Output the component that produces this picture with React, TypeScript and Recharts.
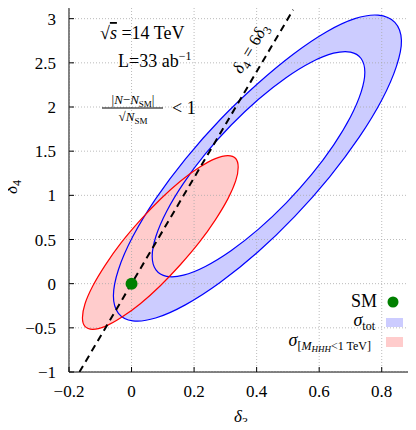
import React from "react";
import { ScatterChart, Scatter, XAxis, YAxis, ReferenceArea } from "recharts";

type Pt = [number, number];

const xDomain: [number, number] = [-0.2, 0.9];
const yDomain: [number, number] = [-1, 3.2];
const xTicks = [-0.2, 0, 0.2, 0.4, 0.6, 0.8];
const yTicks = [-1, -0.5, 0, 0.5, 1, 1.5, 2, 2.5, 3];

// sigma_tot band: outer and inner contour (delta3, delta4)
const totOuter: Pt[] = [
  [0.863, 2.756], [0.842, 2.958], [0.788, 3.04], [0.714, 3.0], [0.624, 2.852], [0.518, 2.6],
  [0.403, 2.263], [0.283, 1.856], [0.172, 1.411], [0.077, 0.96], [0.004, 0.533], [-0.042, 0.158],
  [-0.058, -0.138], [-0.042, -0.336], [0.004, -0.421], [0.077, -0.389], [0.172, -0.24], [0.283, 0.013],
  [0.403, 0.355], [0.522, 0.762], [0.633, 1.207], [0.728, 1.658], [0.801, 2.085], [0.847, 2.46],
];
const totInner: Pt[] = [
  [0.746, 2.394], [0.734, 2.549], [0.7, 2.622], [0.646, 2.609], [0.576, 2.51], [0.494, 2.332],
  [0.406, 2.088], [0.318, 1.793], [0.236, 1.469], [0.166, 1.136], [0.112, 0.818], [0.078, 0.537],
  [0.066, 0.311], [0.078, 0.156], [0.112, 0.083], [0.166, 0.096], [0.236, 0.195], [0.318, 0.373],
  [0.406, 0.617], [0.494, 0.912], [0.576, 1.236], [0.646, 1.569], [0.7, 1.887], [0.734, 2.168],
];
// sigma with M_HHH < 1 TeV
const lowMass: Pt[] = [
  [0.341, 1.319], [0.333, 1.417], [0.308, 1.45], [0.268, 1.416], [0.217, 1.317], [0.156, 1.16],
  [0.092, 0.956], [0.028, 0.719], [-0.033, 0.464], [-0.084, 0.21], [-0.124, -0.027], [-0.149, -0.23],
  [-0.157, -0.386], [-0.149, -0.484], [-0.124, -0.517], [-0.084, -0.483], [-0.033, -0.384], [0.028, -0.227],
  [0.092, -0.023], [0.156, 0.214], [0.217, 0.469], [0.268, 0.723], [0.308, 0.96], [0.333, 1.163],
];
const slopeLine: Pt[] = [[-0.1667, -1], [0.5167, 3.1]];
const smPoint: Pt[] = [[0, 0]];

const rows = (pts: Pt[]) => pts.map(([x, y]) => ({ x, y }));

const gridRows = [
  ...xTicks.flatMap((v) => [{ x: v, y: yDomain[0] }, { x: v, y: yDomain[1] }]),
  ...yTicks.flatMap((v) => [{ x: xDomain[0], y: v }, { x: xDomain[1], y: v }]),
];

const W = 416;
const H = 430;
const TOP = 1;
const RIGHT = 3;
const YW = 69;
const XH = 58;
const SERIF = "'Liberation Serif', 'DejaVu Serif', serif";
const serif = { fontFamily: SERIF };
const BLUE = "#0000ff";
const RED = "#ff0000";

type XY = { x: number; y: number };

// closed catmull-rom through the contour points
function closed(pts: XY[]) {
  const n = pts.length;
  if (!n) return "";
  let d = `M${pts[0].x},${pts[0].y}`;
  for (let i = 0; i < n; i++) {
    const p0 = pts[(i - 1 + n) % n];
    const p1 = pts[i];
    const p2 = pts[(i + 1) % n];
    const p3 = pts[(i + 2) % n];
    const c1x = p1.x + (p2.x - p0.x) / 6;
    const c1y = p1.y + (p2.y - p0.y) / 6;
    const c2x = p2.x - (p3.x - p1.x) / 6;
    const c2y = p2.y - (p3.y - p1.y) / 6;
    d += `C${c1x},${c1y} ${c2x},${c2y} ${p2.x},${p2.y}`;
  }
  return d + "Z";
}

const none = () => <g />;

const ringFill = (p: any) => {
  const n = totOuter.length;
  return (
    <path
      d={closed(p.points.slice(0, n)) + closed(p.points.slice(n))}
      fill={BLUE}
      fillOpacity={0.2}
      fillRule="evenodd"
      stroke="none"
    />
  );
};

const outline = (fill: string, stroke: string) => (p: any) =>
  <path d={closed(p.points)} fill={fill} stroke={stroke} strokeWidth={stroke === "none" ? 0 : 1.2} />;

const grid = (p: any) => {
  let d = "";
  for (let i = 0; i + 1 < p.points.length; i += 2) {
    d += `M${p.points[i].x},${p.points[i].y}L${p.points[i + 1].x},${p.points[i + 1].y}`;
  }
  return <path d={d} fill="none" stroke="#aaaaaa" strokeWidth={0.8} strokeDasharray="1 2" />;
};

const fmt = (v: number) => (v < 0 ? "\u2212" + Math.abs(v) : String(v));

const XTick = (props: any) => {
  const { x, y, payload } = props;
  return (
    <g>
      <line x1={x} x2={x} y1={y} y2={y - 5} stroke="#000" />
      <line x1={x} x2={x} y1={TOP} y2={TOP + 5} stroke="#000" />
      <text x={x} y={y + 25} textAnchor="middle" fontSize={17} style={serif} fill="#000">
        {fmt(payload.value)}
      </text>
    </g>
  );
};

const YTick = (props: any) => {
  const { x, y, payload } = props;
  return (
    <g>
      <line x1={x} x2={x + 5} y1={y} y2={y} stroke="#000" />
      <line x1={W - RIGHT} x2={W - RIGHT - 5} y1={y} y2={y} stroke="#000" />
      <text x={x - 13} y={y + 6} textAnchor="end" fontSize={17} style={serif} fill="#000">
        {fmt(payload.value)}
      </text>
    </g>
  );
};

function Notes() {
  return (
    <svg
      width={W}
      height={H}
      style={{ position: "absolute", left: 0, top: 0, pointerEvents: "none", fontFamily: SERIF }}
    >
      <text x={100} y={39} fontSize={18} style={serif}>
        √<tspan fontStyle="italic" textDecoration="overline">s</tspan> =14 TeV
      </text>
      <text x={118} y={67} fontSize={18} style={serif}>
        L=33 ab<tspan dy={-7} fontSize={12}>−1</tspan>
      </text>
      <text x={133} y={104} fontSize={13} textAnchor="middle" style={serif}>
        |<tspan fontStyle="italic">N</tspan>−<tspan fontStyle="italic">N</tspan>
        <tspan dy={3} fontSize={9}>SM</tspan>
        <tspan dy={-3}>|</tspan>
      </text>
      <line x1={102} x2={163} y1={108} y2={108} stroke="#000" strokeWidth={1.2} />
      <text x={133} y={121} fontSize={13} textAnchor="middle" style={serif}>
        √<tspan fontStyle="italic">N</tspan>
        <tspan dy={3} fontSize={9}>SM</tspan>
      </text>
      <text x={172} y={114} fontSize={18} style={serif}>&lt; 1</text>

      <text transform="translate(255,51) rotate(-59.5)" textAnchor="middle" fontSize={17} style={serif}>
        <tspan fontStyle="italic">δ</tspan>
        <tspan dy={4} fontSize={12}>4</tspan>
        <tspan dy={-4}> = 6</tspan>
        <tspan fontStyle="italic">δ</tspan>
        <tspan dy={4} fontSize={12}>3</tspan>
      </text>

      <text x={241} y={422} textAnchor="middle" fontSize={17} style={serif}>
        <tspan fontStyle="italic">δ</tspan>
        <tspan dy={4} fontSize={12}>3</tspan>
      </text>
      <text transform="translate(17,187) rotate(-90)" textAnchor="middle" fontSize={17} style={serif}>
        <tspan fontStyle="italic">δ</tspan>
        <tspan dy={4} fontSize={12}>4</tspan>
      </text>

      <text x={377} y={307} textAnchor="end" fontSize={18} style={serif}>SM</text>
      <circle cx={393} cy={302} r={5.5} fill="#008000" />
      <text x={375} y={326} textAnchor="end" fontSize={18} style={serif}>
        <tspan fontStyle="italic">σ</tspan>
        <tspan dy={4} fontSize={12}>tot</tspan>
      </text>
      <rect x={386} y={318} width={17} height={9} fill={BLUE} fillOpacity={0.2} />
      <text x={371} y={346} textAnchor="end" fontSize={18} style={serif}>
        <tspan fontStyle="italic">σ</tspan>
        <tspan dy={4} fontSize={12}>[</tspan>
        <tspan fontSize={12} fontStyle="italic">M</tspan>
        <tspan dy={2} fontSize={9} fontStyle="italic">HHH</tspan>
        <tspan dy={-2} fontSize={12}>&lt;1 TeV]</tspan>
      </text>
      <rect x={386} y={337} width={17} height={10} fill="#ffcccc" />
    </svg>
  );
}

export default function App() {
  return (
    <div style={{ position: "relative", width: W, height: H, margin: -8, background: "#fff" }}>
      <ScatterChart width={W} height={H} margin={{ top: TOP, right: RIGHT, left: 0, bottom: 0 }}>
        <XAxis
          type="number"
          dataKey="x"
          domain={xDomain}
          ticks={xTicks}
          interval={0}
          allowDataOverflow
          height={XH}
          tickSize={0}
          tickMargin={0}
          axisLine={false}
          tick={XTick}
        />
        <YAxis
          type="number"
          dataKey="y"
          domain={yDomain}
          ticks={yTicks}
          interval={0}
          allowDataOverflow
          width={YW}
          tickSize={0}
          tickMargin={0}
          axisLine={false}
          tick={YTick}
        />
        <Scatter data={[...rows(totOuter), ...rows(totInner)]} shape={none} line={ringFill} isAnimationActive={false} />
        <Scatter data={rows(lowMass)} shape={none} line={outline("#ffcccc", "none")} isAnimationActive={false} />
        <Scatter data={gridRows} shape={none} line={grid} isAnimationActive={false} />
        <Scatter data={rows(totOuter)} shape={none} line={outline("none", BLUE)} isAnimationActive={false} />
        <Scatter data={rows(totInner)} shape={none} line={outline("none", BLUE)} isAnimationActive={false} />
        <Scatter data={rows(lowMass)} shape={none} line={outline("none", RED)} isAnimationActive={false} />
        <Scatter
          data={rows(slopeLine)}
          shape={none}
          line={{ stroke: "#000", strokeWidth: 2, strokeDasharray: "7 5" }}
          isAnimationActive={false}
        />
        <Scatter
          data={rows(smPoint)}
          shape={(p: any) => <circle cx={p.cx} cy={p.cy} r={6} fill="#008000" />}
          isAnimationActive={false}
        />
        <ReferenceArea x1={xDomain[0]} x2={xDomain[1]} y1={yDomain[0]} y2={yDomain[1]} fill="none" stroke="#000" strokeWidth={1} />
      </ScatterChart>
      <Notes />
    </div>
  );
}
